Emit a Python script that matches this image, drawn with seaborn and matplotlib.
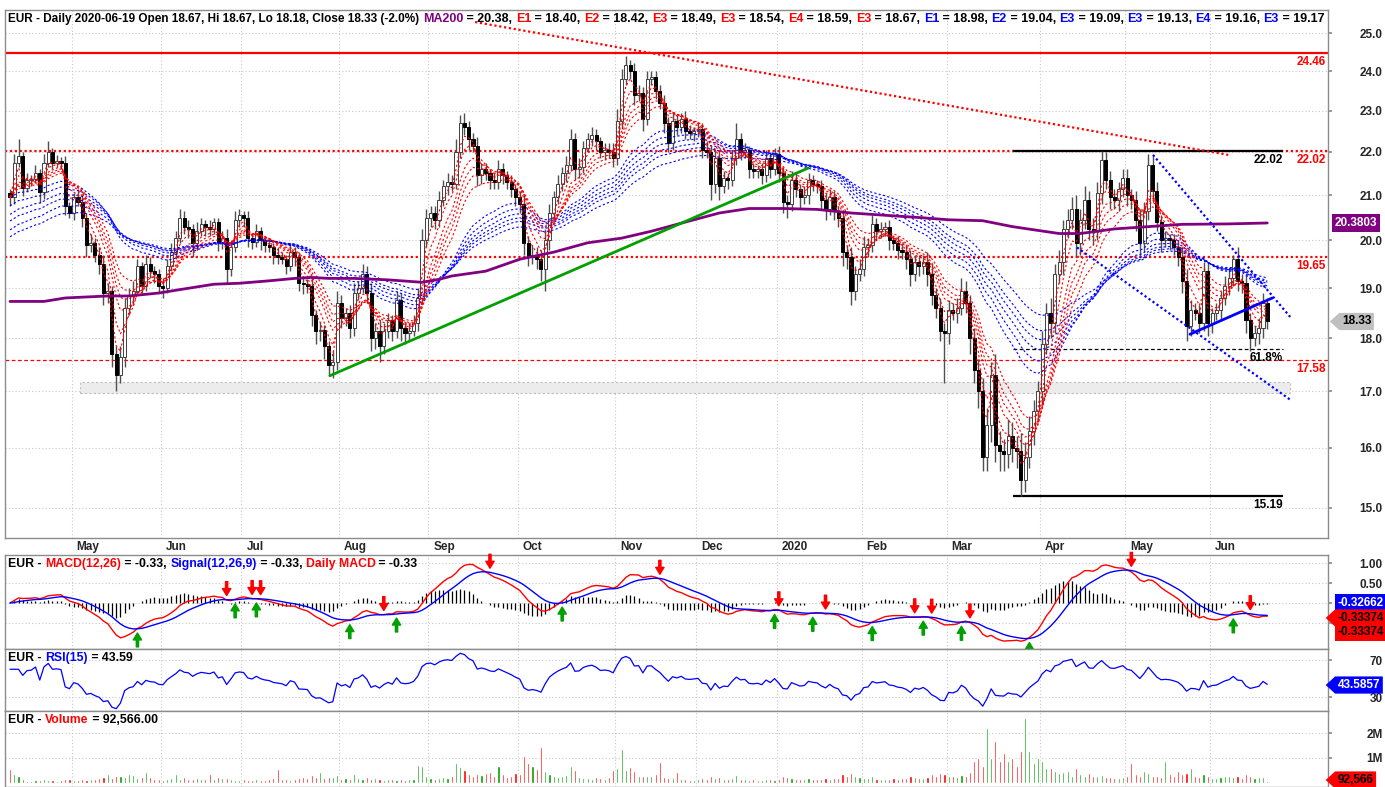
import numpy as np
import pandas as pd
import matplotlib
matplotlib.use("Agg")
import matplotlib.pyplot as plt
import matplotlib.transforms as mtrans
from matplotlib.path import Path
from matplotlib.patches import Rectangle
from matplotlib.ticker import FixedLocator, FixedFormatter, NullLocator, NullFormatter
import seaborn as sns

# ---- data --------------------------------------------------------------
first_open = 21.05
closes = [
    20.95, 21.75, 21.90, 21.17, 21.35, 21.37, 21.50, 21.07, 21.75, 22.00,
    21.75, 21.78, 21.75, 20.75, 20.60, 20.95, 20.85, 20.50, 19.90, 19.95,
    19.70, 19.50, 18.90, 18.95, 17.70, 17.30, 17.65, 18.60, 18.85, 18.95,
    19.45, 19.05, 19.50, 19.35, 19.30, 19.05, 19.00, 19.45, 19.75, 20.05,
    20.50, 20.30, 20.25, 19.95, 20.20, 20.35, 20.30, 20.25, 20.40, 19.97,
    20.05, 19.40, 19.85, 20.45, 20.55, 20.50, 20.05, 19.97, 20.20, 20.00,
    19.90, 19.85, 19.70, 19.65, 19.60, 19.45, 19.75, 19.65, 19.10, 19.08,
    19.05, 18.45, 18.15, 18.17, 17.85, 17.50, 17.55, 18.70, 18.40, 18.50,
    18.20, 18.90, 19.00, 19.30, 18.90, 18.00, 18.15, 17.85, 18.15, 18.35,
    18.15, 18.75, 18.20, 18.10, 18.15, 18.30, 18.80, 20.00, 20.50, 20.60,
    20.45, 20.90, 21.20, 21.30, 21.25, 22.00, 22.70, 22.60, 22.30, 22.15,
    21.45, 21.60, 21.50, 21.35, 21.30, 21.60, 21.45, 21.30, 21.15, 20.95,
    20.80, 19.95, 19.65, 19.70, 19.60, 19.40, 20.00, 20.60, 20.95, 21.25,
    21.50, 21.70, 22.30, 21.60, 21.65, 22.10, 22.30, 22.40, 22.25, 22.00,
    22.05, 22.00, 21.85, 22.75, 23.80, 24.15, 24.00, 23.40, 23.45, 22.80,
    23.80, 23.85, 23.50, 23.20, 22.70, 22.20, 22.75, 22.60, 22.80, 22.50,
    22.45, 22.50, 22.55, 22.05, 22.00, 21.25, 21.85, 21.20, 21.40, 21.35,
    21.85, 22.30, 22.00, 22.05, 21.60, 21.55, 21.60, 21.45, 21.85, 21.60,
    21.95, 21.50, 20.85, 20.80, 21.35, 21.15, 20.95, 21.00, 21.35, 21.25,
    21.20, 20.90, 20.70, 20.95, 20.65, 20.50, 19.75, 19.65, 18.95, 19.30,
    19.40, 19.85, 19.90, 20.35, 20.20, 20.25, 20.30, 20.00, 19.95, 19.80,
    19.75, 19.60, 19.30, 19.55, 19.45, 19.55, 19.30, 18.85, 18.60, 18.15,
    18.10, 18.55, 18.50, 18.60, 18.95, 18.70, 18.00, 17.40, 17.00, 15.85,
    16.40, 17.30, 16.05, 15.95, 15.90, 16.20, 16.00, 15.95, 15.45, 15.85,
    16.30, 16.65, 17.00, 17.90, 18.50, 18.30, 19.30, 19.55, 20.25, 20.45,
    20.70, 19.95, 20.45, 20.90, 20.25, 20.20, 21.05, 21.80, 21.35, 20.95,
    20.90, 21.15, 21.40, 21.00, 20.90, 20.45, 19.95, 20.65, 21.70, 21.10,
    20.40, 20.00, 20.05, 20.00, 19.85, 19.65, 19.15, 18.25, 18.55, 18.50,
    18.30, 19.35, 18.30, 18.50, 18.55, 18.80, 19.05, 19.20, 19.60, 19.15,
    19.10, 18.35, 18.00, 18.10, 18.20, 18.70, 18.33,
]
# wick lengths above / below the body, in cents
up_wick = [
    10, 20, 40, 10, 15, 10, 20, 10, 20, 25, 10, 15, 10, 15, 10, 10, 20, 15, 10, 20,
    10, 15, 20, 15, 10, 15, 20, 20, 15, 20, 15, 10, 20, 15, 10, 10, 15, 15, 20, 15,
    20, 15, 15, 10, 20, 15, 10, 15, 10, 10, 15, 20, 15, 20, 15, 10, 15, 10, 15, 10,
    10, 15, 10, 15, 10, 10, 20, 10, 10, 15, 10, 15, 10, 15, 10, 10, 20, 25, 15, 10,
    15, 20, 15, 20, 15, 20, 15, 20, 15, 15, 10, 20, 15, 10, 15, 15, 20, 25, 20, 15,
    15, 20, 15, 20, 15, 30, 20, 25, 15, 15, 20, 15, 15, 10, 15, 20, 15, 10, 15, 10,
    15, 20, 15, 20, 15, 20, 25, 20, 15, 20, 15, 20, 25, 15, 20, 15, 15, 20, 15, 10,
    15, 15, 20, 30, 25, 25, 15, 20, 20, 15, 20, 15, 15, 15, 20, 15, 20, 15, 15, 20,
    15, 10, 15, 15, 20, 15, 20, 15, 15, 10, 20, 40, 15, 15, 10, 15, 10, 15, 20, 15,
    15, 20, 15, 15, 20, 15, 10, 20, 15, 10, 10, 15, 15, 20, 15, 10, 15, 15, 20, 15,
    20, 25, 15, 20, 15, 15, 10, 15, 10, 15, 15, 15, 20, 15, 15, 15, 20, 20, 15, 20,
    15, 20, 15, 20, 25, 20, 15, 20, 20, 25, 30, 25, 40, 25, 20, 30, 25, 20, 30, 25,
    25, 20, 20, 25, 20, 30, 20, 25, 20, 25, 25, 30, 25, 30, 20, 25, 25, 22, 20, 20,
    20, 15, 20, 20, 15, 20, 25, 20, 25, 20, 20, 15, 15, 10, 15, 15, 20, 25, 20, 15,
    15, 20, 20, 10, 15, 15, 20, 20, 10, 25, 15, 20, 15, 15, 20, 20, 10,
]
down_wick = [
    20, 15, 10, 20, 10, 15, 10, 25, 15, 10, 15, 10, 15, 20, 10, 15, 10, 20, 25, 15,
    15, 20, 25, 20, 25, 30, 15, 20, 15, 20, 10, 15, 10, 15, 20, 15, 20, 10, 10, 15,
    10, 15, 20, 30, 15, 10, 20, 15, 10, 20, 15, 30, 15, 10, 15, 20, 20, 15, 10, 20,
    15, 10, 20, 15, 10, 15, 10, 20, 15, 20, 15, 20, 25, 20, 25, 20, 25, 15, 20, 15,
    20, 15, 15, 10, 20, 25, 20, 30, 15, 15, 20, 15, 25, 20, 15, 10, 15, 10, 15, 20,
    20, 15, 15, 20, 15, 10, 15, 20, 25, 15, 25, 20, 15, 20, 15, 15, 20, 15, 20, 20,
    20, 25, 20, 15, 20, 25, 45, 20, 15, 15, 15, 20, 15, 25, 20, 15, 10, 15, 20, 15,
    20, 15, 20, 15, 20, 15, 20, 25, 15, 30, 15, 15, 20, 15, 25, 20, 15, 20, 15, 20,
    15, 20, 15, 20, 15, 35, 20, 30, 15, 20, 15, 15, 20, 15, 20, 15, 15, 20, 15, 20,
    15, 20, 25, 30, 15, 20, 25, 15, 20, 15, 15, 20, 25, 15, 20, 20, 30, 25, 30, 20,
    15, 15, 20, 15, 20, 15, 15, 20, 15, 20, 15, 20, 25, 15, 20, 15, 25, 20, 20, 20,
    95, 20, 15, 20, 15, 20, 30, 25, 30, 25, 25, 30, 30, 35, 30, 25, 25, 30, 26, 20,
    20, 25, 20, 25, 20, 30, 20, 20, 25, 20, 20, 30, 25, 20, 25, 30, 20, 25, 20, 25,
    20, 25, 20, 25, 20, 25, 30, 20, 20, 25, 20, 25, 15, 20, 15, 20, 25, 30, 20, 15,
    20, 15, 25, 20, 15, 20, 15, 20, 15, 20, 20, 25, 25, 15, 20, 20, 15,
]
# volume in thousands of shares
volume_k = [
    560, 360, 290, 150, 100, 80, 120, 130, 150, 120,
    110, 90, 140, 170, 180, 120, 140, 150, 130, 160,
    150, 200, 260, 350, 220, 300, 280, 250, 370, 330,
    200, 250, 450, 230, 180, 150, 130, 160, 200, 360,
    180, 240, 180, 150, 200, 170, 160, 360, 170, 230,
    190, 200, 150, 140, 130, 150, 120, 110, 170, 140,
    120, 150, 220, 560, 150, 180, 140, 160, 200, 250,
    220, 320, 250, 430, 200, 230, 250, 320, 180, 200,
    170, 360, 220, 180, 240, 150, 200, 170, 140, 180,
    150, 120, 160, 130, 150, 180, 720, 670, 300, 200,
    180, 220, 250, 200, 300, 800, 630, 530, 350, 300,
    380, 320, 400, 430, 300, 690, 350, 250, 300, 420,
    380, 1070, 800, 700, 560, 1450, 490, 350, 300, 250,
    280, 320, 670, 530, 250, 200, 220, 180, 250, 200,
    180, 240, 530, 590, 1360, 530, 630, 490, 300, 280,
    300, 280, 350, 830, 250, 220, 200, 450, 180, 150,
    130, 120, 160, 200, 180, 300, 220, 250, 180, 150,
    200, 320, 180, 150, 140, 160, 130, 120, 180, 150,
    120, 160, 300, 250, 200, 180, 150, 170, 200, 160,
    150, 180, 200, 160, 220, 200, 350, 280, 400, 300,
    250, 220, 200, 280, 180, 150, 160, 170, 200, 180,
    190, 220, 300, 250, 200, 220, 260, 350, 300, 420,
    380, 300, 280, 250, 320, 300, 450, 900, 1000, 700,
    2200, 1000, 1700, 900, 1200, 900, 1000, 700, 1300, 2600,
    1300, 800, 1000, 900, 600, 600, 500, 400, 450, 500,
    300, 600, 350, 280, 420, 300, 280, 320, 250, 230,
    200, 220, 250, 300, 800, 350, 300, 500, 400, 280,
    300, 250, 900, 350, 300, 500, 350, 400, 600, 300,
    250, 350, 300, 200, 220, 250, 300, 280, 250, 300,
    220, 350, 280, 200, 250, 240, 93,
]
month_labels = ["May", "Jun", "Jul", "Aug", "Sep", "Oct", "Nov",
                "Dec", "2020", "Feb", "Mar", "Apr", "May", "Jun"]
month_starts = [15, 36, 55, 78, 99, 120, 143, 162, 181, 201, 221, 243, 263, 283]

ma200_bar = [0, 8, 13, 23, 28, 35, 40, 48, 54, 61, 67, 71, 75, 81, 89, 97, 101,
             104, 112, 120, 128, 136, 144, 151, 159, 167, 174, 182, 190, 198,
             206, 214, 221, 229, 236, 247, 252, 260, 268, 276, 287, 296]
ma200_val = [18.73, 18.73, 18.80, 18.84, 18.84, 18.90, 18.97, 19.08, 19.10,
             19.15, 19.20, 19.22, 19.20, 19.20, 19.17, 19.12, 19.18, 19.25,
             19.35, 19.60, 19.75, 19.95, 20.05, 20.20, 20.40, 20.60, 20.70,
             20.70, 20.68, 20.60, 20.55, 20.50, 20.45, 20.43, 20.30, 20.15,
             20.15, 20.25, 20.30, 20.35, 20.36, 20.38]

red_spans = [3, 5, 8, 10, 12, 15]
blue_spans = [30, 35, 40, 45, 50, 60]
# level of each long average just before the first bar (left edge of chart)
blue_start = [20.95, 20.75, 20.55, 20.40, 20.20, 20.05]

macd_sell_bars = [51, 57, 59, 88, 113, 153, 181, 192, 213, 217, 226, 264, 292]
macd_buy_bars = [30, 53, 58, 80, 91, 130, 180, 189, 203, 215, 224, 240, 288]

# drawn studies (bar index, price)
down_trend = ([109.5, 286.8], [25.30, 21.93])
up_trend = ([75.3, 187.9], [17.29, 21.62])
channel_top = ([269.1, 301.4], [21.93, 18.42])
channel_bottom = ([251.2, 301.4], [19.85, 16.85])
wedge_line = ([277.8, 297.2], [18.08, 18.80])
range_bars = [236.2, 299.7]
range_high, range_low, fib_618 = 22.02, 15.19, 17.80
support_band = ([16.5, 301.4], [16.97, 17.17])
red_levels = [24.46, 22.02, 19.65, 17.58]

# ---- derived series --------------------------------------------------------
n = len(closes)
bars = np.arange(n)
close = pd.Series(closes, dtype=float)
opens = pd.Series([first_open] + closes[:-1], dtype=float)
highs = np.maximum(opens, close) + np.array(up_wick) / 100
lows = np.minimum(opens, close) - np.array(down_wick) / 100
up = (close >= opens).to_numpy()

ema12 = close.ewm(span=12, adjust=False).mean()
ema26 = close.ewm(span=26, adjust=False).mean()
macd = ema12 - ema26
signal = macd.ewm(span=9, adjust=False).mean()
hist = macd - signal
delta = close.diff().fillna(0)
gain = delta.clip(lower=0).ewm(alpha=1 / 15, adjust=False).mean()
loss = (-delta.clip(upper=0)).ewm(alpha=1 / 15, adjust=False).mean()
rsi = (100 - 100 / (1 + gain / loss.replace(0, np.nan))).fillna(60)

# ---- figure ---------------------------------------------------------------
sns.set_theme(style="white")
plt.rcParams["font.family"] = ["Liberation Sans", "DejaVu Sans"]
plt.rcParams["font.weight"] = "bold"
FS = 8.5
HFS = 8.8
GRID = dict(color="#c8c8c8", linestyle=(0, (1, 2)), linewidth=0.8)

W, H = 1385, 787
fig = plt.figure(figsize=(W / 100, H / 100), dpi=100)


def panel(top, bottom, left=5, right=1328):
    return fig.add_axes([left / W, 1 - bottom / H, (right - left) / W, (bottom - top) / H])


ax_p = panel(10, 538)
ax_m = panel(555, 649)
ax_r = panel(649, 711)
ax_v = panel(711, 787)
axes = [ax_p, ax_m, ax_r, ax_v]
xlim = (-1.18, 310.3)
grid_x = [m - 0.5 for m in month_starts]

for ax in axes:
    ax.set_xlim(*xlim)
    ax.set_facecolor("white")
    for s in ax.spines.values():
        s.set_color("#8c8c8c")
        s.set_linewidth(1)
    ax.xaxis.set_major_locator(FixedLocator(grid_x))
    ax.xaxis.set_major_formatter(NullFormatter())
    ax.yaxis.tick_right()
    ax.tick_params(axis="y", which="major", length=3, color="#8c8c8c", pad=36.3,
                   labelsize=FS)
    ax.tick_params(axis="x", length=0)
    ax.grid(True, **GRID)
    ax.set_axisbelow(True)

ax_p.tick_params(axis="x", length=5, direction="out", color="#8c8c8c")


def right_align(ax):
    for lbl in ax.get_yticklabels():
        lbl.set_horizontalalignment("right")
        lbl.set_fontweight("bold")


# ---- price panel -------------------------------------------------------------
ax_p.set_yscale("log")
ax_p.set_ylim(14.52, 25.63)
pticks = [15, 16, 17, 18, 19, 20, 21, 22, 23, 24, 25]
ax_p.yaxis.set_major_locator(FixedLocator(pticks))
ax_p.yaxis.set_major_formatter(FixedFormatter([f"{v:.1f}" for v in pticks]))
ax_p.yaxis.set_minor_locator(NullLocator())
ax_p.yaxis.set_minor_formatter(NullFormatter())

ax_p.add_patch(Rectangle((support_band[0][0], support_band[1][0]),
                         support_band[0][1] - support_band[0][0],
                         support_band[1][1] - support_band[1][0],
                         facecolor="#ececec", edgecolor="#bdbdbd",
                         linestyle=(0, (2, 2)), linewidth=0.8, zorder=1))

ax_p.axhline(red_levels[0], color="#ff0000", lw=1.6, zorder=2)
for lv in red_levels[1:3]:
    ax_p.axhline(lv, color="#ff0000", lw=1.6, linestyle=(0, (1, 1.2)), zorder=2)
ax_p.axhline(red_levels[3], color="#ff0000", lw=0.9, linestyle=(0, (3, 2)), zorder=2)
ax_p.hlines([range_high, range_low], range_bars[0], range_bars[1], color="black",
            lw=1.6, zorder=3)
ax_p.hlines(fib_618, range_bars[0], range_bars[1], color="black", lw=0.9,
            linestyle=(0, (3, 2)), zorder=3)

# candles
ax_p.vlines(bars, lows, highs, color="#505050", lw=1, zorder=4)
body_lo = np.minimum(opens, close).to_numpy()
body_h = np.maximum(np.abs(close - opens).to_numpy(), 0.02)
ax_p.bar(bars[up], body_h[up], bottom=body_lo[up], width=0.72, color="white",
         edgecolor="#404040", linewidth=0.7, zorder=5)
ax_p.bar(bars[~up], body_h[~up], bottom=body_lo[~up], width=0.72, color="black",
         edgecolor="black", linewidth=0.7, zorder=5)

# GMMA ribbons
for sp, seed in zip(blue_spans, blue_start):
    ema = pd.Series([seed] + closes).ewm(span=sp, adjust=False).mean().iloc[1:]
    sns.lineplot(x=bars, y=ema.to_numpy(), ax=ax_p, color="#0000ff", lw=0.8,
                 linestyle=(0, (2, 2)), estimator=None, zorder=6)
for sp in red_spans:
    sns.lineplot(x=bars, y=close.ewm(span=sp, adjust=False).mean().to_numpy(),
                 ax=ax_p, color="#ff0000", lw=0.8, linestyle=(0, (2, 2)),
                 estimator=None, zorder=6)
sns.lineplot(x=ma200_bar, y=ma200_val, ax=ax_p, color="#800080", lw=2.0,
             estimator=None, zorder=7)

ax_p.plot(*down_trend, color="#ff0000", lw=1.6, linestyle=(0, (1, 1.2)), zorder=7)
ax_p.plot(*up_trend, color="#00a000", lw=2.0, zorder=7)
ax_p.plot(*channel_top, color="#0000ff", lw=1.6, linestyle=(0, (1, 1.2)), zorder=7)
ax_p.plot(*channel_bottom, color="#0000ff", lw=1.6, linestyle=(0, (1, 1.2)), zorder=7)
ax_p.plot(*wedge_line, color="#0000ff", lw=2.0, zorder=7)

yx = mtrans.blended_transform_factory(ax_p.transAxes, ax_p.transData)
for lv in red_levels:
    ax_p.annotate(f"{lv:.2f}", xy=(1, lv), xycoords=yx, xytext=(-1.5, -2),
                  textcoords="offset points", ha="right", va="top",
                  color="#ff0000", fontsize=FS, fontweight="bold")
for lv, txt in [(range_high, "22.02"), (fib_618, "61.8%"), (range_low, "15.19")]:
    ax_p.annotate(txt, xy=(range_bars[1], lv), xytext=(0, -2),
                  textcoords="offset points", ha="right", va="top",
                  color="black", fontsize=FS, fontweight="bold")

# month labels in the strip below the price panel
xb = mtrans.blended_transform_factory(ax_p.transData, ax_p.transAxes)
for pos, lbl in zip(grid_x, month_labels):
    ax_p.annotate(lbl, xy=(pos, 0), xycoords=xb, xytext=(3.5, -6.5),
                  textcoords="offset points", ha="left", va="center",
                  fontsize=FS, fontweight="bold", annotation_clip=False)


# ---- helpers for multi coloured headers and value tags --------------------
def header(ax, parts, size=HFS):
    prev = None
    for item in parts:
        txt, col = item[0], item[1]
        fs = item[2] if len(item) > 2 else size
        if prev is None:
            prev = ax.annotate(txt, xy=(0, 1), xycoords="axes fraction",
                               xytext=(2.5, -2), textcoords="offset points",
                               ha="left", va="top", color=col, fontsize=fs,
                               fontweight="bold")
        else:
            prev = ax.annotate(txt, xy=(1, 0), xycoords=prev, ha="left",
                               va="bottom", color=col, fontsize=fs,
                               fontweight="bold")
        prev.set_clip_on(True)
        prev.set_clip_path(ax.patch)


def tag_shape(x0, y0, width, height, mutation_size):
    pad = mutation_size * 0.22
    x0, y0 = x0 - pad, y0 - pad
    w, h = width + 2 * pad, height + 2 * pad
    tip = h * 0.55
    return Path([(x0 - tip, y0 + h / 2), (x0, y0), (x0 + w, y0), (x0 + w, y0 + h),
                 (x0, y0 + h), (x0 - tip, y0 + h / 2)], closed=True)


def value_tag(ax, frac_y, txt, fc, tc="white", arrow=True, dx=4):
    ax.annotate(txt, xy=(1, frac_y), xycoords="axes fraction",
                xytext=(dx, 0), textcoords="offset points", ha="left",
                va="center", color=tc, fontsize=FS, fontweight="bold",
                annotation_clip=False,
                bbox=dict(boxstyle=tag_shape if arrow else "square,pad=0.22",
                          fc=fc, ec="none"))


B, R, P = "#0000ff", "#ff0000", "#800080"
header(ax_p, [("EUR - Daily 2020-06-19 Open 18.67, Hi 18.67, Lo 18.18, Close 18.33 (-2.0%) ", "black", 8.5),
              ("MA200", P), (" = 20.38, ", "black"),
              ("E1", R), (" = 18.40, ", "black"), ("E2", R), (" = 18.42, ", "black"),
              ("E3", R), (" = 18.49, ", "black"), ("E3", R), (" = 18.54, ", "black"),
              ("E4", R), (" = 18.59, ", "black"), ("E3", R), (" = 18.67, ", "black"),
              ("E1", B), (" = 18.98, ", "black"), ("E2", B), (" = 19.04, ", "black"),
              ("E3", B), (" = 19.09, ", "black"), ("E3", B), (" = 19.13, ", "black"),
              ("E4", B), (" = 19.16, ", "black"), ("E3", B), (" = 19.17", "black")],
       size=9.0)

span = np.log(25.63) - np.log(14.52)
value_tag(ax_p, (np.log(20.3803) - np.log(14.52)) / span, "20.3803", P,
          arrow=False, dx=5)
value_tag(ax_p, (np.log(18.33) - np.log(14.52)) / span, "18.33", "#c0c0c0",
          tc="black", dx=10)

# ---- MACD panel -----------------------------------------------------------
ax_m.set_ylim(-1.15, 1.2)
ax_m.yaxis.set_major_locator(FixedLocator([-0.5, 0.0, 0.5, 1.0]))
ax_m.yaxis.set_major_formatter(FixedFormatter(["", "", "0.50", "1.00"]))
ax_m.vlines(bars, 0, hist, color="black", lw=0.9, zorder=3)
sns.lineplot(x=bars, y=macd.to_numpy(), ax=ax_m, color="#ff0000", lw=1.0,
             estimator=None, zorder=4)
sns.lineplot(x=bars, y=signal.to_numpy(), ax=ax_m, color="#0000ff", lw=1.0,
             estimator=None, zorder=4)
for b in macd_sell_bars:
    v = max(macd[b], signal[b])
    tip = mtrans.offset_copy(ax_m.transData, fig=fig, y=3, units="points")
    ax_m.annotate("", xy=(b, v), xycoords=tip, xytext=(0, 10),
                  textcoords="offset points",
                  arrowprops=dict(facecolor="#ff0000", edgecolor="#ff0000",
                                  width=1.6, headwidth=6, headlength=5, shrink=0))
for b in macd_buy_bars:
    v = min(macd[b], signal[b])
    tip = mtrans.offset_copy(ax_m.transData, fig=fig, y=-3, units="points")
    ax_m.annotate("", xy=(b, v), xycoords=tip, xytext=(0, -10),
                  textcoords="offset points",
                  arrowprops=dict(facecolor="#00a000", edgecolor="#00a000",
                                  width=1.6, headwidth=6, headlength=5, shrink=0))
header(ax_m, [("EUR - ", "black"), ("MACD(12,26)", R), (" = -0.33, ", "black"),
              ("Signal(12,26,9)", B), (" = -0.33, ", "black"),
              ("Daily MACD", R), (" = -0.33", "black")])
value_tag(ax_m, 0.489, "-0.32662", B, arrow=False, dx=7)
value_tag(ax_m, 0.330, "-0.33374", R, tc="black", dx=7)
value_tag(ax_m, 0.181, "-0.33374", R, tc="black", arrow=False, dx=7)

# ---- RSI panel ---------------------------------------------------------------
ax_r.set_ylim(14.9, 81.9)
ax_r.yaxis.set_major_locator(FixedLocator([30, 70]))
ax_r.yaxis.set_major_formatter(FixedFormatter(["30", "70"]))
sns.lineplot(x=bars, y=rsi.to_numpy(), ax=ax_r, color="#0000ff", lw=0.9,
             estimator=None)
header(ax_r, [("EUR - ", "black"), ("RSI(15)", B), (" = 43.59", "black")])
value_tag(ax_r, 0.419, "43.5857", B, dx=7)

# ---- Volume panel ----------------------------------------------------------
ax_v.set_ylim(-160, 2880)
ax_v.yaxis.set_major_locator(FixedLocator([1000, 2000]))
ax_v.yaxis.set_major_formatter(FixedFormatter(["1M", "2M"]))
vol = np.array(volume_k, dtype=float)
ax_v.bar(bars[up], vol[up], width=0.5, color="#00a000", zorder=3)
ax_v.bar(bars[~up], vol[~up], width=0.5, color="#ff0000", zorder=3)
header(ax_v, [("EUR - ", "black"), ("Volume", R), (" = 92,566.00", "black")])
value_tag(ax_v, 0.092, "92,566", R, tc="black", dx=7)

for ax in axes:
    ax.set_xlabel("")
    ax.set_ylabel("")
    right_align(ax)

fig.savefig("out.png", dpi=100)
plt.close(fig)
